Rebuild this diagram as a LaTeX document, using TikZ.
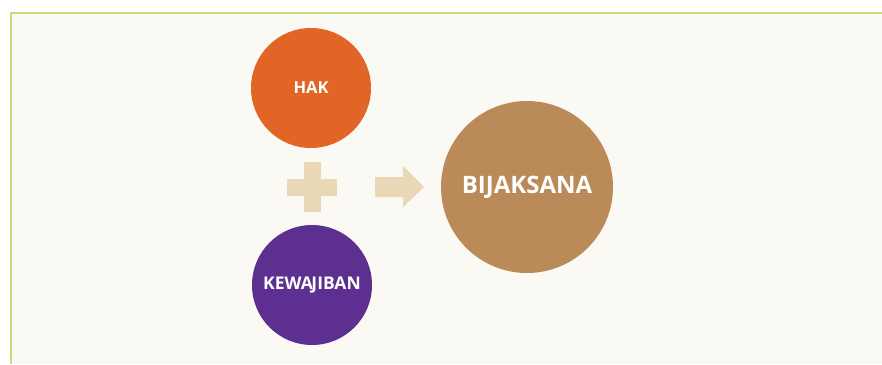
\documentclass[tikz,border=0pt]{standalone}
\usepackage{fontspec}
\setmainfont{Open Sans}
\definecolor{bgcream}{HTML}{FAF9F3}
\definecolor{frameg}{HTML}{C9DD7A}
\definecolor{hakc}{HTML}{E06526}
\definecolor{kewc}{HTML}{5C2F91}
\definecolor{bijc}{HTML}{BA8A58}
\definecolor{symc}{HTML}{EAD7B5}
\begin{document}
\begin{tikzpicture}[x=1pt,y=-1pt,
  circ/.style={circle,inner sep=0pt,text=white,font=\bfseries},
  sym/.style={fill=symc,draw=none}]
\useasboundingbox (0,0) rectangle (882,364);
\fill[white] (0,0) rectangle (882,364);
\fill[bgcream] (10,12) rectangle (882,364);
\draw[frameg,line width=2pt] (11,364) -- (11,13) -- (882,13);
\node[circ,fill=hakc,minimum size=120pt,font=\bfseries\fontsize{16.5}{18}\selectfont] (hak) at (311,88) {HAK};
\node[circ,fill=kewc,minimum size=120pt,font=\bfseries\fontsize{17.5}{19}\selectfont] (kew) at (312,285) {KEWA\kern-1.5pt JIBAN};
\node[circ,fill=bijc,minimum size=172pt,font=\bfseries\fontsize{24}{26}\selectfont] (bij) at (527,187) {BIJAKSANA};
\coordinate (plus) at (312,187);
\fill[sym] (303.5,162) rectangle (320.5,212);
\fill[sym] (287,179) rectangle (337,195.5);
\fill[sym] (375,177) -- (403,177) -- (403,166) -- (424,187) -- (403,207) -- (403,197) -- (375,197) -- cycle;
\end{tikzpicture}
\end{document}
